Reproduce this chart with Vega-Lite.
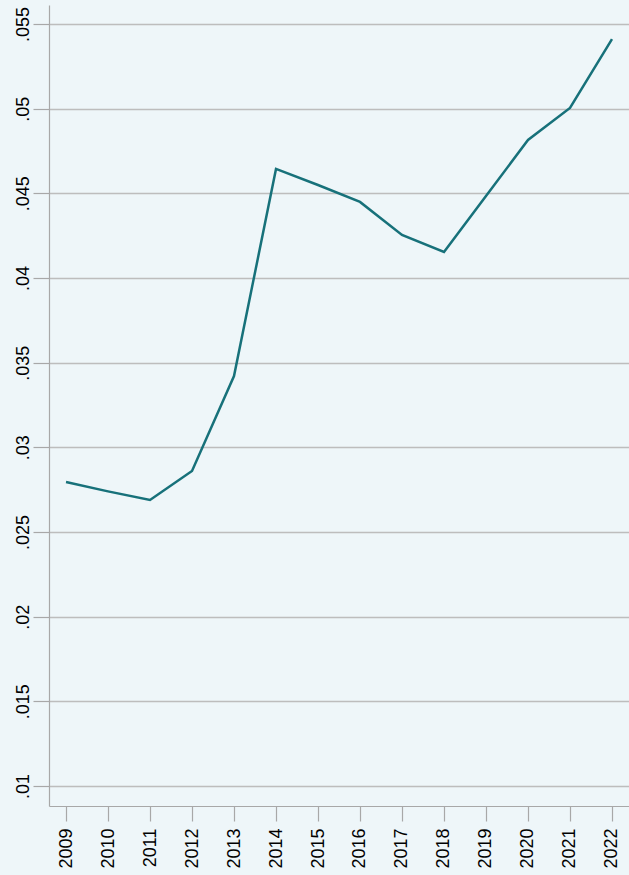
{
  "$schema": "https://vega.github.io/schema/vega-lite/v6.json",
  "autosize": "none",
  "width": 580,
  "height": 801,
  "padding": {"left": 49, "top": 5, "right": 0, "bottom": 69},
  "background": "#EEF6F9",
  "config": {
    "view": {"stroke": null, "fill": "#EEF6F9"},
    "font": "Liberation Sans"
  },
  "data": {
    "values": [
      {"year": 2009, "value": 0.02795},
      {"year": 2010, "value": 0.0274},
      {"year": 2011, "value": 0.02689},
      {"year": 2012, "value": 0.0286},
      {"year": 2013, "value": 0.03421},
      {"year": 2014, "value": 0.04644},
      {"year": 2015, "value": 0.04549},
      {"year": 2016, "value": 0.04449},
      {"year": 2017, "value": 0.04254},
      {"year": 2018, "value": 0.04154},
      {"year": 2019, "value": 0.04484},
      {"year": 2020, "value": 0.04815},
      {"year": 2021, "value": 0.05004},
      {"year": 2022, "value": 0.05411}
    ]
  },
  "mark": {"type": "line", "color": "#17717A", "strokeWidth": 2.5},
  "encoding": {
    "x": {
      "field": "year",
      "type": "quantitative",
      "scale": {"domain": [2008.595, 2022.405], "nice": false, "zero": false},
      "axis": {
        "title": null,
        "values": [2009, 2010, 2011, 2012, 2013, 2014, 2015, 2016, 2017, 2018, 2019, 2020, 2021, 2022],
        "format": "d",
        "grid": false,
        "domainColor": "#A8A8A8",
        "domainWidth": 1.2,
        "tickColor": "#A8A8A8",
        "tickWidth": 1.2,
        "tickSize": 15,
        "labelAngle": -90,
        "labelAlign": "right",
        "labelBaseline": "middle",
        "labelPadding": 7,
        "labelFontSize": 18,
        "labelColor": "#000000",
        "labelFlush": false,
        "labelOverlap": false
      }
    },
    "y": {
      "field": "value",
      "type": "quantitative",
      "scale": {"domain": [0.00882, 0.05612], "nice": false, "zero": false},
      "axis": {
        "title": null,
        "values": [0.01, 0.015, 0.02, 0.025, 0.03, 0.035, 0.04, 0.045, 0.05, 0.055],
        "labelExpr": "replace(format(datum.value, '.3~f'), '0.', '.')",
        "grid": true,
        "gridColor": "#BDBDBD",
        "gridWidth": 1.3,
        "domainColor": "#A8A8A8",
        "domainWidth": 1.2,
        "tickColor": "#A8A8A8",
        "tickWidth": 1.2,
        "tickSize": 16,
        "labelAngle": -90,
        "labelAlign": "center",
        "labelBaseline": "bottom",
        "labelPadding": 1,
        "labelFontSize": 18,
        "labelColor": "#000000",
        "labelFlush": false,
        "labelOverlap": false
      }
    }
  }
}
